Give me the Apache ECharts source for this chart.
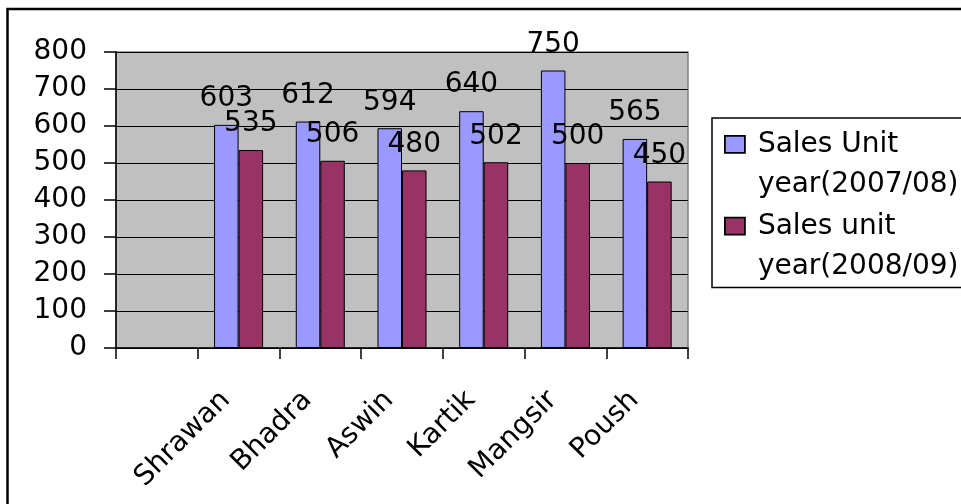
<!DOCTYPE html>
<html>
<head>
<meta charset="utf-8">
<script src="https://cdn.jsdelivr.net/npm/echarts@6/dist/echarts.min.js"></script>
<style>
  html, body { margin: 0; padding: 0; background: #fff; }
  #chart { width: 961px; height: 504px; }
</style>
</head>
<body>
<div id="chart"></div>
<script>
// ---- data ----
const categories = ['', 'Shrawan', 'Bhadra', 'Aswin', 'Kartik', 'Mangsir', 'Poush'];
const seriesNames = ['Sales Unit\nyear(2007/08)', 'Sales unit\nyear(2008/09)'];
const sales0708 = [null, 603, 612, 594, 640, 750, 565];
const sales0809 = [null, 535, 506, 480, 502, 500, 450];
const yTicks = { min: 0, max: 800, interval: 100 };

const FONT = 'DejaVu Sans';
const chart = echarts.init(document.getElementById('chart'), null, { renderer: 'canvas' });

const labelStyle = {
  show: true,
  position: 'top',
  distance: 12,
  fontFamily: FONT,
  fontSize: 28,
  color: '#000'
};

// legend icon: square aligned with first text line, extra width as gap before text
const legendIcon = 'path://M0,0L0,0M28,80L28,80M0,11L20,11L20,28L0,28Z';

chart.setOption({
  backgroundColor: '#fff',
  animation: false,
  textStyle: { fontFamily: FONT },
  graphic: [{
    type: 'rect',
    z: -10,
    shape: { x: 7.5, y: 9, width: 1000, height: 600 },
    style: { fill: 'none', stroke: '#000', lineWidth: 2.5 }
  }],
  grid: {
    left: 116, top: 52, right: 273, bottom: 156,
    show: true,
    backgroundColor: '#C0C0C0',
    borderColor: '#808080',
    borderWidth: 1.5
  },
  legend: {
    orient: 'vertical',
    left: 712, top: 118,
    padding: [6, 40, 0, 12],
    itemGap: 0,
    itemWidth: 28,
    itemHeight: 80,
    borderColor: '#000',
    borderWidth: 1.5,
    icon: legendIcon,
    itemStyle: { borderWidth: 1.8 },
    textStyle: { fontFamily: FONT, fontSize: 28, lineHeight: 40, color: '#000' },
    data: seriesNames
  },
  xAxis: {
    type: 'category',
    data: categories,
    boundaryGap: true,
    axisLine: { show: true, lineStyle: { color: '#000', width: 1.5 } },
    axisTick: { show: true, interval: 0, length: 11, lineStyle: { color: '#000', width: 1.5 } },
    axisLabel: {
      interval: 0, rotate: 45, margin: 35,
      fontFamily: FONT, fontSize: 28, color: '#000',
      padding: [0, 18, 34, 0]
    },
    splitLine: { show: false }
  },
  yAxis: {
    type: 'value',
    min: yTicks.min, max: yTicks.max, interval: yTicks.interval,
    axisLine: { show: true, lineStyle: { color: '#000', width: 1.5 } },
    axisTick: { show: true, length: 12, lineStyle: { color: '#000', width: 1.5 } },
    axisLabel: { margin: 29, fontFamily: FONT, fontSize: 28, color: '#000' },
    splitLine: { show: true, lineStyle: { color: '#000', width: 1 } }
  },
  series: [
    {
      name: seriesNames[0],
      type: 'bar',
      data: sales0708,
      barGap: '0%',
      barCategoryGap: '40%',
      itemStyle: { color: '#9999FF', borderColor: '#000', borderWidth: 1 },
      label: labelStyle
    },
    {
      name: seriesNames[1],
      type: 'bar',
      data: sales0809,
      barGap: '0%',
      barCategoryGap: '40%',
      itemStyle: { color: '#993366', borderColor: '#000', borderWidth: 1 },
      label: labelStyle
    }
  ]
});
</script>
</body>
</html>
